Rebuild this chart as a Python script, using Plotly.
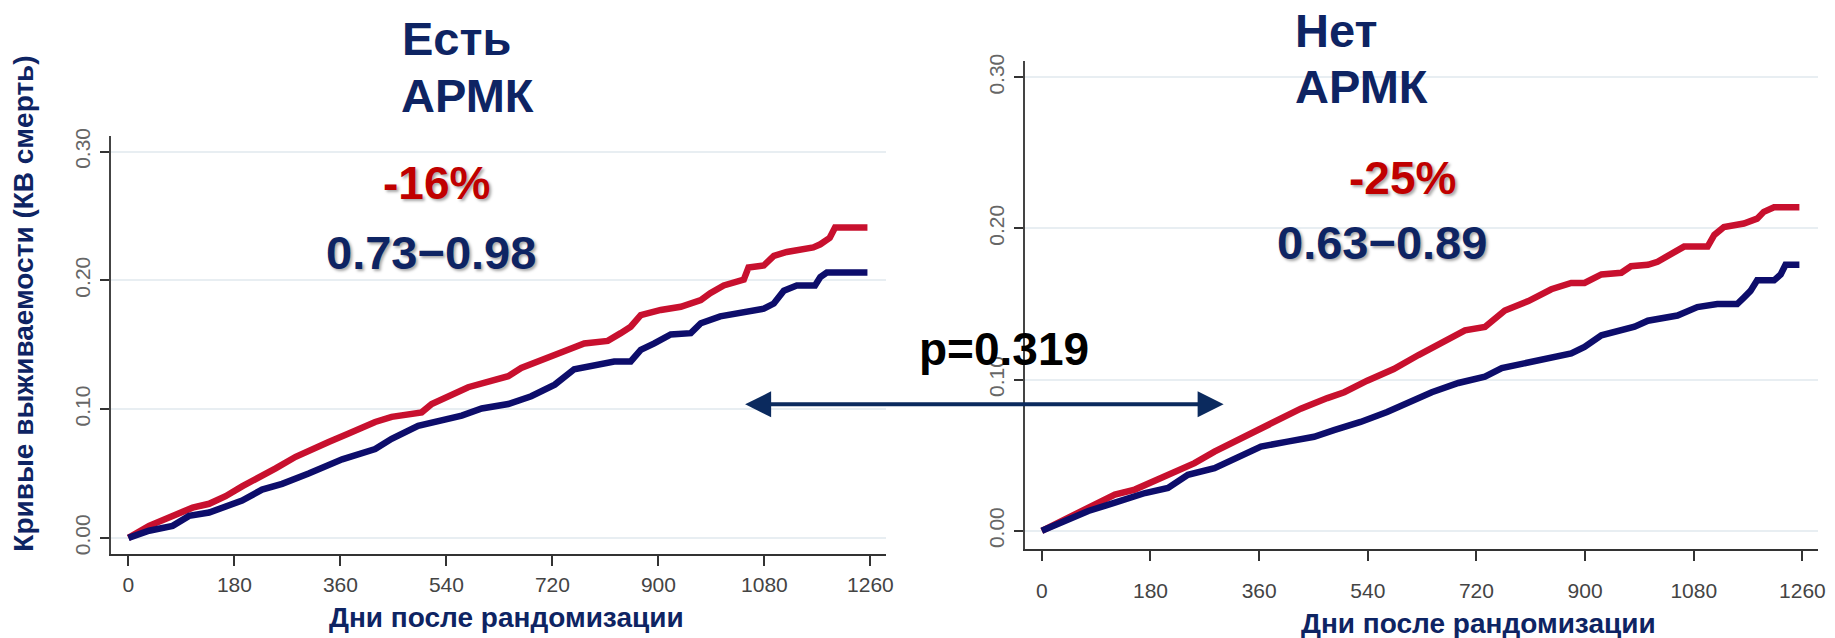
import plotly.graph_objects as go

W, H = 1835, 638

# ---------------- data ----------------
tick_days = [0, 180, 360, 540, 720, 900, 1080, 1260]
tick_vals = [0.0, 0.1, 0.2, 0.3]
tick_val_labels = ["0.00", "0.10", "0.20", "0.30"]

left_red_days = [0, 35, 75, 109, 137, 165, 193, 222, 250, 284, 306, 340, 374, 419, 447, 498, 515, 543,
                 577, 616, 645, 667, 707, 740, 774, 814, 836, 853, 870, 904, 938, 972, 988, 1011, 1045,
                 1053, 1079, 1096, 1118, 1163, 1175, 1191, 1200, 1255]
left_red_vals = [0, .0094, .0171, .0235, .0265, .0324, .040, .0465, .054, .063, .068, .0745, .081, .090,
                 .094, .0975, .104, .110, .117, .122, .1256, .132, .1385, .145, .151, .153, .159, .164,
                 .173, .177, .1795, .1846, .190, .196, .2005, .210, .2115, .219, .222, .2256, .228, .233,
                 .241, .241]

left_blue_days = [0, 35, 75, 103, 137, 171, 193, 227, 261, 306, 363, 419, 447, 492, 532, 566, 600, 645,
                  684, 724, 757, 797, 825, 853, 870, 893, 921, 955, 972, 1005, 1050, 1079, 1096, 1113,
                  1135, 1166, 1175, 1186, 1255]
left_blue_vals = [0, .0056, .0094, .0171, .0197, .0248, .029, .0375, .042, .050, .061, .069, .077, .087,
                  .091, .095, .1005, .104, .110, .119, .131, .1346, .137, .137, .146, .151, .158, .159,
                  .1667, .172, .1756, .178, .182, .192, .196, .196, .2026, .206, .206]

right_red_days = [0, 44, 83, 121, 154, 187, 220, 253, 286, 319, 352, 385, 429, 473, 501, 539, 583, 624,
                  657, 701, 734, 767, 806, 844, 877, 899, 927, 960, 976, 1004, 1020, 1042, 1064, 1103,
                  1114, 1130, 1163, 1185, 1196, 1213, 1255]
right_red_vals = [0, .0087, .0153, .024, .0273, .0328, .0393, .0448, .0524, .059, .0655, .0731, .0808,
                  .0878, .0917, .0993, .107, .1163, .1228, .1326, .1348, .1457, .152, .1598, .164, .164,
                  .1696, .1707, .175, .176, .178, .1826, .188, .188, .1957, .201, .2033, .2065, .211,
                  .214, .214]

right_blue_days = [0, 44, 77, 121, 171, 209, 242, 286, 319, 363, 407, 451, 484, 528, 572, 616, 646, 690,
                   734, 762, 806, 833, 877, 899, 927, 982, 1004, 1053, 1086, 1119, 1152, 1163, 1174, 1185,
                   1213, 1224, 1232, 1255]
right_blue_vals = [0, .0076, .0131, .0186, .025, .0284, .037, .0415, .048, .0557, .059, .0622, .0666,
                   .072, .0786, .0862, .0917, .0978, .102, .1076, .111, .114, .1174, .1217, .1293, .135,
                   .139, .1424, .148, .150, .150, .1543, .1587, .1657, .1657, .1696, .176, .176]

title_left = ["Есть", "АРМК"]
title_right = ["Нет", "АРМК"]
rr_left, ci_left = "-16%", "0.73\u22120.98"
rr_right, ci_right = "-25%", "0.63\u22120.89"
p_text = "p=0.319"
x_title = "Дни после рандомизации"
y_title = "Кривые выживаемости (КВ смерть)"

# ---------------- style ----------------
RED = "#C8102E"
BLUE = "#0D0D6B"
NAVY = "#0E2463"
DARKRED = "#C00000"
FONT = "Liberation Sans, Arial, sans-serif"
SHADOW = "2px 2px 3px rgba(0,0,0,0.35)"


def px(x):
    return x / W


def py(y):
    return 1 - y / H


fig = go.Figure()
line_w = 6.5
fig.add_trace(go.Scatter(x=left_red_days, y=left_red_vals, mode="lines",
                         line=dict(color=RED, width=line_w), xaxis="x", yaxis="y"))
fig.add_trace(go.Scatter(x=left_blue_days, y=left_blue_vals, mode="lines",
                         line=dict(color=BLUE, width=line_w), xaxis="x", yaxis="y"))
fig.add_trace(go.Scatter(x=right_red_days, y=right_red_vals, mode="lines",
                         line=dict(color=RED, width=line_w), xaxis="x2", yaxis="y2"))
fig.add_trace(go.Scatter(x=right_blue_days, y=right_blue_vals, mode="lines",
                         line=dict(color=BLUE, width=line_w), xaxis="x2", yaxis="y2"))

xcommon = dict(tickmode="array", tickvals=tick_days, ticktext=[str(t) for t in tick_days],
               showgrid=False, zeroline=False, showline=True, linecolor="#333", linewidth=2,
               ticks="outside", ticklen=10, tickwidth=1.5, tickcolor="#333",
               tickfont=dict(family=FONT, size=21, color="#444"), fixedrange=True)
ycommon = dict(tickmode="array", tickvals=tick_vals, ticktext=tick_val_labels,
               showgrid=True, gridcolor="#E8EEF2", gridwidth=2, zeroline=False,
               showline=True, linecolor="#444", linewidth=1.5,
               ticks="outside", ticklen=9, tickwidth=1.5, tickcolor="#333", tickangle=-90,
               tickfont=dict(family=FONT, size=21, color="#666"), fixedrange=True)

# left panel geometry
L_x0, L_x1 = 111.5, 890
L_y0, L_y1 = 130, 553.6
L_day0, L_ppd = 129, (874.2 - 129) / 1260
L_v0, L_ppv = 537.5, (537.5 - 145.6) / 0.3
# right panel geometry
R_x0, R_x1 = 1029.4, 1826
R_y0, R_y1 = 53.3, 548.9
R_day0, R_ppd = 1046.4, (1810.3 - 1046.4) / 1260
R_v0, R_ppv = 530.3, (530.3 - 70.3) / 0.3

fig.update_layout(
    width=W, height=H, margin=dict(l=0, r=0, t=0, b=0),
    paper_bgcolor="white", plot_bgcolor="white", showlegend=False,
    xaxis=dict(xcommon, domain=[px(L_x0), px(L_x1)],
               range=[(L_x0 - L_day0) / L_ppd, (L_x1 - L_day0) / L_ppd], anchor="y",
               ticklabelstandoff=1),
    yaxis=dict(ycommon, domain=[py(L_y1), py(L_y0)],
               range=[(L_v0 - L_y1) / L_ppv, (L_v0 - L_y0) / L_ppv], anchor="x",
               ticklabelstandoff=2),
    xaxis2=dict(xcommon, domain=[px(R_x0), px(R_x1)],
                range=[(R_x0 - R_day0) / R_ppd, (R_x1 - R_day0) / R_ppd], anchor="y2",
                ticklabelstandoff=12),
    yaxis2=dict(ycommon, domain=[py(R_y1), py(R_y0)],
                range=[(R_v0 - R_y1) / R_ppv, (R_v0 - R_y0) / R_ppv], anchor="x2",
                ticklabelstandoff=2),
)


def txt(s, x, y, size, color, shadow=None, angle=0):
    f = dict(family=FONT, size=size, color=color, weight=700)
    if shadow:
        f["shadow"] = shadow
    return dict(text=s, x=px(x), y=py(y), xref="paper", yref="paper", showarrow=False,
                xanchor="center", yanchor="middle", font=f, textangle=angle)


ann = [
    txt(title_left[0], 459, 31, 47, NAVY),
    txt(title_left[1], 470, 89, 47, NAVY),
    txt(title_right[0], 1342, 23, 47, NAVY),
    txt(title_right[1], 1367, 80, 47, NAVY),
    txt(rr_left, 438, 177, 46, DARKRED, SHADOW),
    txt(ci_left, 433, 248, 47, NAVY, SHADOW),
    txt(rr_right, 1409, 172, 46, DARKRED, SHADOW),
    txt(ci_right, 1388, 238, 47, NAVY, SHADOW),
    txt(p_text, 1008, 346, 46, "#000000"),
    txt(x_title, 509, 618, 28, NAVY),
    txt(x_title, 1485, 624, 28, NAVY),
    txt(y_title, 24, 300, 28, NAVY, angle=-90),
    dict(x=px(1229), y=py(402), ax=-(1229 - 749), ay=0, xref="paper", yref="paper",
         axref="pixel", ayref="pixel", showarrow=True, text="", arrowhead=2, arrowside="end+start",
         arrowsize=1.3, arrowwidth=4, arrowcolor="#0B2A5E", standoff=0, startstandoff=0),
]
fig.update_layout(annotations=ann)

fig.write_html("out.html")
